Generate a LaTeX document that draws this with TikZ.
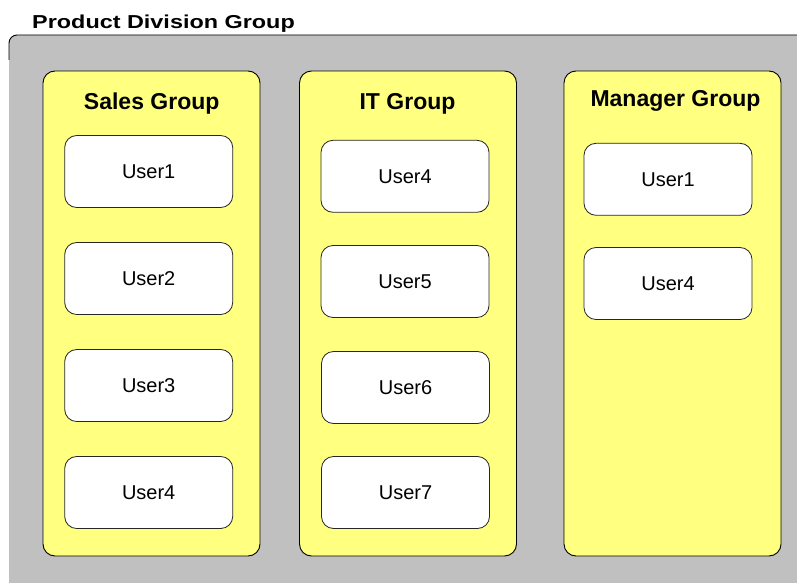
\documentclass[tikz,border=0pt]{standalone}
\usepackage{fontspec}
\setmainfont{Liberation Sans}
\definecolor{panelgray}{HTML}{C0C0C0}
\definecolor{grpyellow}{HTML}{FFFF80}
\begin{document}
\begin{tikzpicture}[x=1pt,y=-1pt,
  grp/.style={draw=black, line width=0.9pt, fill=grpyellow, rounded corners=12pt,
    minimum width=217pt, minimum height=485pt, inner sep=0pt},
  user/.style={draw=black!85, line width=0.8pt, fill=white, rounded corners=12pt,
    minimum width=168pt, minimum height=72pt, inner sep=0pt,
    font=\fontsize{20}{24}\selectfont},
  gtitle/.style={anchor=base, inner sep=0pt, font=\fontsize{23}{28}\selectfont\bfseries}]
\useasboundingbox (0,0) rectangle (797,583);
\fill[white] (0,0) rectangle (797,583);
% outer panel
\fill[panelgray, rounded corners=8pt] (9,35) rectangle (820,600);
\draw[line width=0.9pt, rounded corners=8pt] (9,60) -- (9,35) -- (820,35);
\node[anchor=base west, inner sep=0pt] (title) at (32,28.3)
  {\scalebox{1}[0.8]{\fontsize{23.4}{28}\selectfont\bfseries Product Division Group}};
% groups
\node[grp] (sales) at (151.5,313.5) {};
\node[grp] (it) at (408,313.5) {};
\node[grp] (mgr) at (672.5,313.5) {};
\node[gtitle] (salest) at (151.7,110) {Sales Group};
\node[gtitle] (itt) at (407.5,110) {IT Group};
\node[gtitle] (mgrt) at (675.5,106.7) {Manager Group};
% users
\node[user] (s1) at (148.7,171.5) {User1};
\node[user] (s2) at (148.7,278.5) {User2};
\node[user] (s3) at (148.7,385.5) {User3};
\node[user] (s4) at (148.7,492.5) {User4};
\node[user] (i4) at (405,176.3) {User4};
\node[user] (i5) at (405,281.5) {User5};
\node[user] (i6) at (405.5,387.5) {User6};
\node[user] (i7) at (405.5,492.5) {User7};
\node[user] (m1) at (668,179.3) {User1};
\node[user] (m4) at (668,283.5) {User4};
\end{tikzpicture}
\end{document}
